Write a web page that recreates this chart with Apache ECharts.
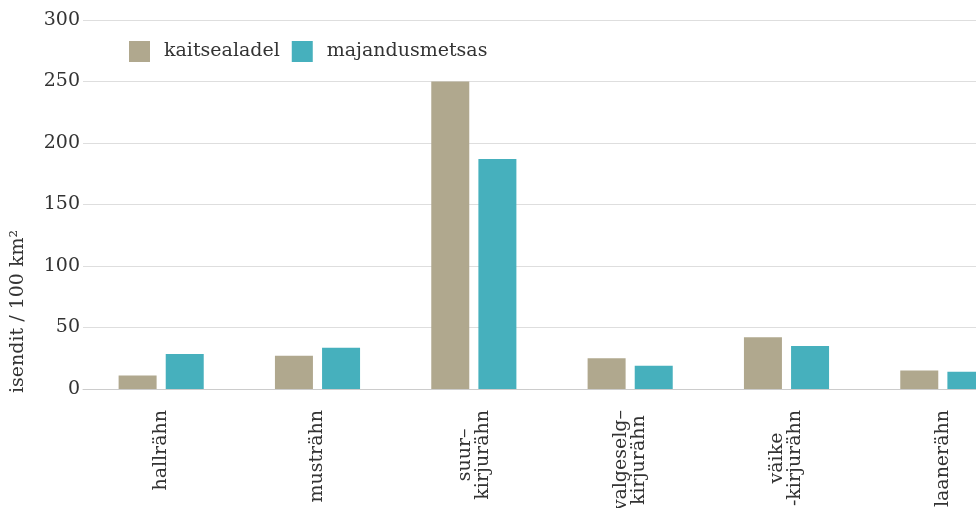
<!DOCTYPE html>
<html><head><meta charset="utf-8">
<script src="https://cdn.jsdelivr.net/npm/echarts@6/dist/echarts.min.js"></script>
<style>html,body{margin:0;padding:0;background:#fff}#c{width:976px;height:508px}</style>
</head><body><div id="c"></div>
<script>
var categories = ['hallrähn', 'musträhn', 'suur–\nkirjurähn', 'valgeselg–\nkirjurähn', 'väike\n-kirjurähn', 'laanerähn'];
var kaitsealadel = [11, 27, 250, 25, 42, 15];
var majandusmetsas = [28.5, 33.5, 187, 19, 35, 14];
var seriesNames = ['kaitsealadel', 'majandusmetsas'];
var yTicks = {min: 0, max: 300, interval: 50};
var yName = 'isendit / 100 km²';

var FONT = '"DejaVu Serif", serif';
var chart = echarts.init(document.getElementById('c'), null, {renderer: 'canvas'});
chart.setOption({
  animation: false,
  textStyle: {fontFamily: FONT},
  grid: {left: 83, width: 938, top: 20, height: 369, containLabel: false, outerBoundsMode: 'none'},
  legend: {
    left: 124, top: 36, itemWidth: 21, itemHeight: 21, itemGap: 12,
    icon: 'rect',
    textStyle: {fontFamily: FONT, fontSize: 19, color: '#333', padding: [0, 0, 0, 9]},
    data: seriesNames
  },
  xAxis: {
    type: 'category', data: categories,
    axisLine: {lineStyle: {color: '#ccc', width: 1}},
    axisTick: {show: false},
    axisLabel: {
      rotate: 90, margin: 21, interval: 0, align: 'right', verticalAlign: 'middle',
      color: '#333', fontFamily: FONT, fontSize: 19, lineHeight: 18,
      formatter: function (v) { return v.split('\n').map(function (s) { return '{a|' + s + '}'; }).join('\n'); },
      rich: {a: {align: 'center', fontFamily: FONT, fontSize: 19, color: '#333', lineHeight: 18}}
    }
  },
  yAxis: {
    type: 'value', min: yTicks.min, max: yTicks.max, interval: yTicks.interval,
    axisLine: {show: false}, axisTick: {show: false},
    axisLabel: {margin: 3, color: '#333', fontFamily: FONT, fontSize: 19},
    splitLine: {lineStyle: {color: '#dedede', width: 1}}
  },
  graphic: [{
    type: 'text', x: 18, y: 393, rotation: Math.PI / 2,
    style: {text: yName, font: '19px ' + FONT, fill: '#333', textAlign: 'left', textVerticalAlign: 'middle'}
  }],
  series: [
    {name: seriesNames[0], type: 'bar', data: kaitsealadel, barWidth: 38, barGap: '24%', itemStyle: {color: '#b0a88e'}},
    {name: seriesNames[1], type: 'bar', data: majandusmetsas, barWidth: 38, itemStyle: {color: '#46b0bd'}}
  ]
});
</script></body></html>
